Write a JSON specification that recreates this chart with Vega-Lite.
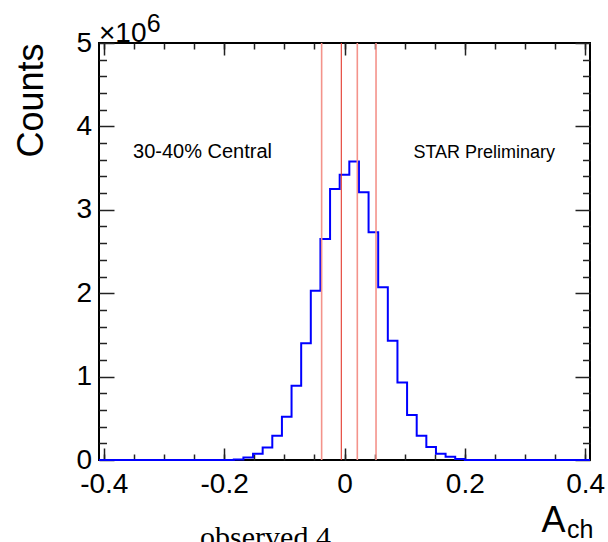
{
  "$schema": "https://vega.github.io/schema/vega-lite/v6.json",
  "width": 491,
  "height": 417,
  "autosize": "none",
  "padding": {"left": 99, "top": 43, "right": 18, "bottom": 82},
  "background": "white",
  "config": {
    "view": {"stroke": "black", "strokeWidth": 2},
    "font": "Liberation Sans",
    "axis": {"grid": false, "domain": false, "tickColor": "#222", "tickWidth": 1.5, "labelColor": "black", "titleColor": "black", "labelOverlap": false, "labelBound": false}
  },
  "datasets": {
    "hist": [
      {"a": -0.408, "counts": 0}, {"a": -0.392, "counts": 0}, {"a": -0.376, "counts": 0}, {"a": -0.36, "counts": 0},
      {"a": -0.344, "counts": 0}, {"a": -0.328, "counts": 0}, {"a": -0.312, "counts": 0}, {"a": -0.296, "counts": 0},
      {"a": -0.28, "counts": 0}, {"a": -0.264, "counts": 0}, {"a": -0.248, "counts": 0}, {"a": -0.232, "counts": 0},
      {"a": -0.216, "counts": 0}, {"a": -0.2, "counts": 0}, {"a": -0.184, "counts": 5000}, {"a": -0.168, "counts": 30000},
      {"a": -0.152, "counts": 75000}, {"a": -0.136, "counts": 150000}, {"a": -0.12, "counts": 290000}, {"a": -0.104, "counts": 520000},
      {"a": -0.088, "counts": 890000}, {"a": -0.072, "counts": 1400000}, {"a": -0.056, "counts": 2030000}, {"a": -0.04, "counts": 2650000},
      {"a": -0.024, "counts": 3250000}, {"a": -0.008, "counts": 3420000}, {"a": 0.008, "counts": 3580000}, {"a": 0.024, "counts": 3210000},
      {"a": 0.04, "counts": 2730000}, {"a": 0.056, "counts": 2070000}, {"a": 0.072, "counts": 1430000}, {"a": 0.088, "counts": 930000},
      {"a": 0.104, "counts": 540000}, {"a": 0.12, "counts": 290000}, {"a": 0.136, "counts": 155000}, {"a": 0.152, "counts": 75000},
      {"a": 0.168, "counts": 40000}, {"a": 0.184, "counts": 12000}, {"a": 0.2, "counts": 0}, {"a": 0.216, "counts": 0},
      {"a": 0.232, "counts": 0}, {"a": 0.248, "counts": 0}, {"a": 0.264, "counts": 0}, {"a": 0.28, "counts": 0},
      {"a": 0.296, "counts": 0}, {"a": 0.312, "counts": 0}, {"a": 0.328, "counts": 0}, {"a": 0.344, "counts": 0},
      {"a": 0.36, "counts": 0}, {"a": 0.376, "counts": 0}, {"a": 0.392, "counts": 0}, {"a": 0.408, "counts": 0}
    ],
    "lines": [
      {"a": -0.038, "kind": "band"},
      {"a": -0.0053, "kind": "mean"},
      {"a": 0.0213, "kind": "band"},
      {"a": 0.0524, "kind": "band"}
    ],
    "centrality": [{"a": -0.3514, "counts": 3621000, "label": "30-40% Central"}],
    "star": [{"a": 0.1145, "counts": 3621000, "label": "STAR Preliminary"}],
    "exp": [{"a": -0.408, "counts": 5016000, "label": "×10"}],
    "expsup": [{"a": -0.3287, "counts": 5136000, "label": "6"}],
    "sub": [{"a": 0.3698, "counts": -935000, "label": "ch"}],
    "caption": [{"a": -0.24, "counts": -1043000, "label": "observed 4"}]
  },
  "resolve": {"axis": {"x": "independent", "y": "independent"}},
  "layer": [
    {
      "data": {"name": "hist"},
      "mark": {"type": "line", "interpolate": "step-after", "color": "#0000ff", "strokeWidth": 2},
      "encoding": {
        "x": {"field": "a", "type": "quantitative", "scale": {"domain": [-0.408, 0.408], "nice": false, "zero": false},
          "axis": {"orient": "bottom", "values": [-0.4, -0.2, 0, 0.2, 0.4], "ticks": false, "labelFontSize": 28, "labelPadding": 10, "labelFlush": false,
            "labelExpr": "datum.value == 0 ? '0' : (datum.value < 0 ? '-' : '') + format(abs(datum.value), '.1f')",
            "title": "A", "titleFontSize": 36, "titleFontWeight": "normal", "titleX": 442, "titleY": 71, "titleAlign": "left", "titleBaseline": "alphabetic"}},
        "y": {"field": "counts", "type": "quantitative", "scale": {"domain": [0, 5000000], "nice": false},
          "axis": {"orient": "left", "values": [0, 1000000, 2000000, 3000000, 4000000, 5000000], "ticks": false, "labelFontSize": 28, "labelPadding": 7.5,
            "labelExpr": "format(datum.value / 1000000, 'd')",
            "title": "Counts", "titleFontSize": 36, "titleFontWeight": "normal", "titleX": -57, "titleY": 0, "titleAngle": 270, "titleAlign": "right", "titleBaseline": "alphabetic"}}
      }
    },
    {
      "data": {"name": "lines"},
      "mark": {"type": "rule"},
      "encoding": {
        "x": {"field": "a", "type": "quantitative", "scale": {"domain": [-0.408, 0.408], "nice": false, "zero": false},
          "axis": {"orient": "bottom", "values": [-0.4, -0.2, 0, 0.2, 0.4], "tickSize": -12, "labels": false, "title": null}},
        "y": {"datum": 0, "type": "quantitative", "scale": {"domain": [0, 5000000], "nice": false},
          "axis": {"orient": "left", "values": [0, 1000000, 2000000, 3000000, 4000000, 5000000], "tickSize": -15, "labels": false, "title": null}},
        "y2": {"datum": 5000000},
        "color": {"field": "kind", "type": "nominal", "scale": {"domain": ["band", "mean"], "range": ["#f4938b", "#e3392d"]}, "legend": null},
        "strokeWidth": {"field": "kind", "type": "nominal", "scale": {"domain": ["band", "mean"], "range": [1.6, 1.1]}, "legend": null}
      }
    },
    {
      "data": {"name": "centrality"},
      "mark": {"type": "text", "align": "left", "baseline": "alphabetic", "fontSize": 20, "font": "Liberation Sans", "color": "black"},
      "encoding": {
        "x": {"field": "a", "type": "quantitative", "scale": {"domain": [-0.408, 0.408], "nice": false, "zero": false},
          "axis": {"orient": "bottom", "values": [-0.4, -0.35, -0.3, -0.25, -0.2, -0.15, -0.1, -0.05, 0, 0.05, 0.1, 0.15, 0.2, 0.25, 0.3, 0.35, 0.4], "tickSize": -6, "labels": false, "title": null}},
        "y": {"field": "counts", "type": "quantitative", "scale": {"domain": [0, 5000000], "nice": false},
          "axis": {"orient": "left", "values": [200000, 400000, 600000, 800000, 1200000, 1400000, 1600000, 1800000, 2200000, 2400000, 2600000, 2800000, 3200000, 3400000, 3600000, 3800000, 4200000, 4400000, 4600000, 4800000], "tickSize": -7.5, "labels": false, "title": null}},
        "text": {"field": "label"}
      }
    },
    {
      "data": {"name": "star"},
      "mark": {"type": "text", "align": "left", "baseline": "alphabetic", "fontSize": 18, "font": "Liberation Sans", "color": "black"},
      "encoding": {
        "x": {"field": "a", "type": "quantitative", "scale": {"domain": [-0.408, 0.408], "nice": false, "zero": false},
          "axis": {"orient": "top", "values": [-0.4, -0.2, 0, 0.2, 0.4], "tickSize": -12, "labels": false, "title": null}},
        "y": {"field": "counts", "type": "quantitative", "scale": {"domain": [0, 5000000], "nice": false},
          "axis": {"orient": "right", "values": [0, 1000000, 2000000, 3000000, 4000000, 5000000], "tickSize": -15, "labels": false, "title": null}},
        "text": {"field": "label"}
      }
    },
    {
      "data": {"name": "exp"},
      "mark": {"type": "text", "align": "left", "baseline": "alphabetic", "fontSize": 28, "font": "Liberation Sans", "color": "black"},
      "encoding": {
        "x": {"field": "a", "type": "quantitative", "scale": {"domain": [-0.408, 0.408], "nice": false, "zero": false},
          "axis": {"orient": "top", "values": [-0.4, -0.35, -0.3, -0.25, -0.2, -0.15, -0.1, -0.05, 0, 0.05, 0.1, 0.15, 0.2, 0.25, 0.3, 0.35, 0.4], "tickSize": -6, "labels": false, "title": null}},
        "y": {"field": "counts", "type": "quantitative", "scale": {"domain": [0, 5000000], "nice": false},
          "axis": {"orient": "right", "values": [200000, 400000, 600000, 800000, 1200000, 1400000, 1600000, 1800000, 2200000, 2400000, 2600000, 2800000, 3200000, 3400000, 3600000, 3800000, 4200000, 4400000, 4600000, 4800000], "tickSize": -7.5, "labels": false, "title": null}},
        "text": {"field": "label"}
      }
    },
    {
      "data": {"name": "expsup"},
      "mark": {"type": "text", "align": "left", "baseline": "alphabetic", "fontSize": 25, "font": "Liberation Sans", "color": "black"},
      "encoding": {
        "x": {"field": "a", "type": "quantitative", "scale": {"domain": [-0.408, 0.408], "nice": false, "zero": false}, "axis": null},
        "y": {"field": "counts", "type": "quantitative", "scale": {"domain": [0, 5000000], "nice": false}, "axis": null},
        "text": {"field": "label"}
      }
    },
    {
      "data": {"name": "sub"},
      "mark": {"type": "text", "align": "left", "baseline": "alphabetic", "fontSize": 25, "font": "Liberation Sans", "color": "black"},
      "encoding": {
        "x": {"field": "a", "type": "quantitative", "scale": {"domain": [-0.408, 0.408], "nice": false, "zero": false}, "axis": null},
        "y": {"field": "counts", "type": "quantitative", "scale": {"domain": [0, 5000000], "nice": false}, "axis": null},
        "text": {"field": "label"}
      }
    },
    {
      "data": {"name": "caption"},
      "mark": {"type": "text", "align": "left", "baseline": "alphabetic", "fontSize": 30, "font": "Liberation Serif", "color": "black"},
      "encoding": {
        "x": {"field": "a", "type": "quantitative", "scale": {"domain": [-0.408, 0.408], "nice": false, "zero": false}, "axis": null},
        "y": {"field": "counts", "type": "quantitative", "scale": {"domain": [0, 5000000], "nice": false}, "axis": null},
        "text": {"field": "label"}
      }
    }
  ]
}
